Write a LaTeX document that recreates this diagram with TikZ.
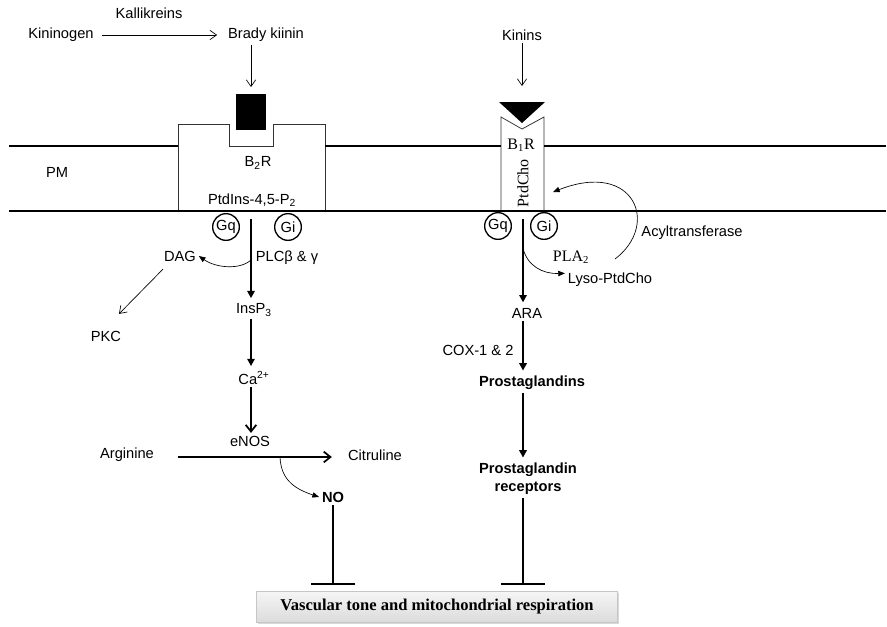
\documentclass[tikz,border=0pt]{standalone}
\usepackage{fontspec}
\setmainfont{Liberation Sans}
\newfontfamily\serifface{Liberation Serif}
\usetikzlibrary{arrows.meta, shadows}
\tikzset{
  lbl/.style={inner sep=2pt},
  boldlbl/.style={inner sep=2pt, font=\fontsize{11}{13.5}\selectfont\bfseries},
  seriflbl/.style={inner sep=1pt, font=\fontsize{12}{14}\selectfont\serifface},
  membrane/.style={line width=1.4pt},
  receptor/.style={draw=black!80, line width=0.6pt},
  gprot/.style={
    circle, draw, line width=1pt, minimum size=20pt, inner sep=0pt,
    font=\fontsize{11}{12}\selectfont
  },
  thinarrow/.style={
    -{Straight Barb[length=5pt,width=7pt]}, line width=0.5pt
  },
  thickarrow/.style={
    -{Triangle[length=5.5pt,width=5.5pt]}, line width=1.5pt, shorten >=2pt
  },
  openarrow/.style={
    -{Straight Barb[length=5pt,width=8pt,line width=1.3pt]}, line width=1.5pt
  },
  curvearrow/.style={
    -{Triangle[length=5pt,width=4pt]}, line width=0.5pt
  },
  inhibit/.style={
    -{Bar[width=33pt,line width=2pt]}, line width=2pt
  },
  resultbox/.style={
    rectangle, minimum width=271pt, minimum height=23pt, inner sep=0pt,
    top color=gray!8, bottom color=gray!28, draw=gray!45,
    drop shadow={shadow xshift=1.2pt, shadow yshift=-1.2pt, opacity=0.3},
    font=\fontsize{12.4}{14}\selectfont\serifface\bfseries
  }
}

\begin{document}
\begin{tikzpicture}[x=0.75pt, y=-0.75pt, font=\fontsize{11}{13.5}\selectfont]
  \useasboundingbox (0,0) rectangle (887,626);

  % receptors and membrane
  \draw[receptor] (178,211) -- (178,124) -- (229,124) -- (229,146) -- (273,146)
    -- (273,124) -- (325,124) -- (325,211);
  \draw[receptor] (501,211) -- (501,117) -- (522,129) -- (544,117) -- (544,211);
  \draw[membrane] (9,146) -- (178,146) (325,146) -- (501,146) (544,146) -- (886,146);
  \draw[membrane] (9,211) -- (886,211);
  \node[lbl] (pm) at (57,172) {PM};

  % ligands
  \node[fill=black, minimum width=22.5pt, minimum height=27pt, inner sep=0pt] (bkbox) at (251,112) {};
  \fill (499,102) -- (545,102) -- (522,123) -- cycle;
  \coordinate (kinbox) at (522,102);

  % B2 pathway
  \node[lbl] (kallik) at (149,13) {Kallikreins};
  \node[lbl] (kininogen) at (61,35) {Kininogen};
  \node[lbl] (bk) at (266,35) {Brady kiinin};
  \node[lbl] (b2r) at (258,163) {B\textsubscript{2}R};
  \node[lbl] (ptdins) at (252,200) {PtdIns-4,5-P\textsubscript{2}};
  \node[gprot] (gq1) at (226,227) {Gq};
  \node[gprot] (gi1) at (288,227) {Gi};
  \node[lbl] (dag) at (180,256) {DAG};
  \node[lbl] (plc) at (287,258) {PLCβ \& γ};
  \node[lbl] (pkc) at (106,336) {PKC};
  \node[lbl] (insp3) at (254,310) {InsP\textsubscript{3}};
  \node[lbl] (ca) at (254,378) {Ca\textsuperscript{2+}};
  \node[lbl] (enos) at (250,441) {eNOS};
  \node[lbl] (arginine) at (127,455) {Arginine};
  \node[lbl] (citruline) at (375,455) {Citruline};
  \node[boldlbl] (no) at (333,497) {NO};
  \coordinate (plcin) at (251,219);
  \coordinate (plcside) at (251,260);
  \coordinate (nosside) at (280,457);

  % B1 pathway
  \node[lbl] (kinins) at (522,35) {Kinins};
  \node[seriflbl] (b1r) at (521,145) {B\textsubscript{1}R};
  \node[seriflbl, rotate=90] (ptdcho) at (523,183) {PtdCho};
  \node[gprot] (gq2) at (498,226) {Gq};
  \node[gprot] (gi2) at (544,226) {Gi};
  \node[seriflbl] (pla2) at (571,257) {PLA\textsubscript{2}};
  \node[lbl] (lyso) at (610,280) {Lyso-PtdCho};
  \node[lbl] (acyl) at (692,233) {Acyltransferase};
  \node[lbl] (ara) at (527,313) {ARA};
  \node[lbl] (cox) at (478,350) {COX-1 \& 2};
  \node[boldlbl] (pg) at (532,383) {Prostaglandins};
  \node[boldlbl, align=center] (pgr) at (528,479) {Prostaglandin\\receptors};
  \coordinate (pla) at (523,219);
  \coordinate (plaside) at (523,248);
  \coordinate (acylfrom) at (615,259);
  \coordinate (acylto) at (553,192);

  \node[resultbox] (vasc) at (437,607) {Vascular tone and mitochondrial respiration};

  % arrows
  \draw[thinarrow, shorten <=4pt, shorten >=6pt] (kininogen) -- (bk);
  \draw[thinarrow, shorten >=5pt] (bk.south -| bkbox) -- (bkbox.north);
  \draw[thinarrow, shorten >=12pt] (kinins) -- (kinbox);
  \draw[thickarrow] (plcin) -- (insp3.north -| plcin);
  \draw[curvearrow] (plcside) .. controls (240,270) and (216,268) .. (dag.east);
  \draw[thinarrow] ([shift={(-17,5)}]dag.south) -- ([shift={(13,-14)}]pkc.north);
  \draw[thickarrow] (insp3.south -| plcin) -- (ca.north -| plcin);
  \draw[openarrow] (ca.south -| plcin) -- (enos.north -| plcin);
  \draw[openarrow, shorten <=16pt, shorten >=10pt] ([yshift=-1.5pt]arginine.east) -- ([yshift=-1.5pt]citruline.west);
  \draw[curvearrow] (nosside) .. controls (281,478) and (292,488) .. (no.west);
  \draw[inhibit, shorten >=4.5pt] (no.south) -- (no.south |- vasc.north);

  \draw[thickarrow] (pla) -- (ara.north -| pla);
  \draw[curvearrow] (plaside) .. controls (527,266) and (543,274) .. ([yshift=5pt]lyso.west);
  \draw[curvearrow] (acylfrom) .. controls (660,225) and (635,160) .. (acylto);
  \draw[thickarrow] (ara.south -| pla) -- (pg.north -| pla);
  \draw[thickarrow] (pg.south -| pla) -- (pgr.north -| pla);
  \draw[inhibit, shorten >=4.5pt] (pgr.south -| pla) -- (vasc.north -| pla);
\end{tikzpicture}
\end{document}
